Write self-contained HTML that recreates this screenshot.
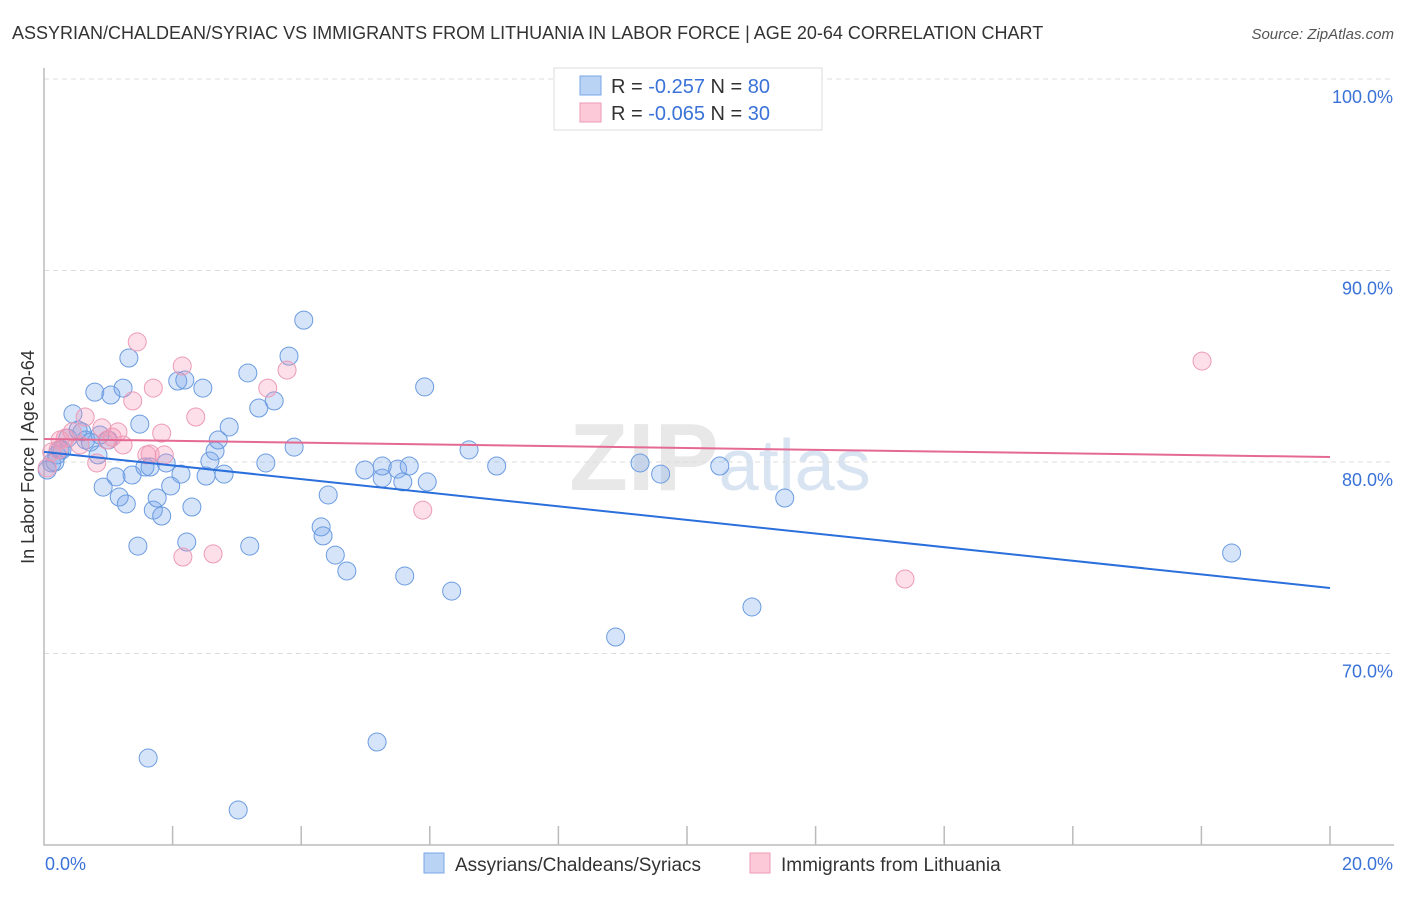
<!DOCTYPE html>
<html><head><meta charset="utf-8"><style>
body{margin:0;background:#fff;font-family:"Liberation Sans",sans-serif;}
svg text{font-family:"Liberation Sans",sans-serif;}
</style></head><body>
<svg id="chart" width="1406" height="892" xmlns="http://www.w3.org/2000/svg">
<text x="12" y="39" font-size="18" fill="#333">ASSYRIAN/CHALDEAN/SYRIAC VS IMMIGRANTS FROM LITHUANIA IN LABOR FORCE | AGE 20-64 CORRELATION CHART</text>
<text x="1394" y="39" font-size="15" fill="#555" text-anchor="end" font-style="italic">Source: ZipAtlas.com</text>
<text x="720" y="490" font-size="96" fill="#e8e8e8" text-anchor="middle" font-family="Liberation Serif" font-weight="bold">ZIP<tspan fill="#d8e4f2" font-family="Liberation Sans" font-weight="normal" font-size="72">atlas</tspan></text>
<g id="grid"></g>
<g id="axes"></g>
<g id="points"></g>
<g id="lines"></g>
<text transform="translate(34,457) rotate(-90)" font-size="18" fill="#333" text-anchor="middle">In Labor Force | Age 20-64</text>
<g>
<rect x="554" y="68" width="268" height="62" fill="#fff" stroke="#ddd"/>
<rect x="580" y="76" width="21" height="19" fill="#b9d3f5" stroke="#7aa6e6"/>
<rect x="580" y="103" width="21" height="19" fill="#fbc9d8" stroke="#ee9ab5"/>
<text x="611" y="93" font-size="20" fill="#333">R = <tspan fill="#3a72d8">-0.257</tspan>   N = <tspan fill="#3a72d8">80</tspan></text>
<text x="611" y="120" font-size="20" fill="#333">R = <tspan fill="#3a72d8">-0.065</tspan>   N = <tspan fill="#3a72d8">30</tspan></text>
</g>
<g>
<rect x="424" y="853" width="20" height="20" fill="#b9d3f5" stroke="#7aa6e6"/>
<text x="455" y="871" font-size="19" fill="#333">Assyrians/Chaldeans/Syriacs</text>
<rect x="750" y="853" width="20" height="20" fill="#fbc9d8" stroke="#ee9ab5"/>
<text x="781" y="871" font-size="19" fill="#333">Immigrants from Lithuania</text>
</g>
</svg>
<script>
const blueX=[0.05,0.12,0.20,0.28,0.37,0.45,0.53,0.59,0.65,0.72,0.79,0.84,0.92,1.00,1.04,1.12,1.17,1.23,1.28,1.32,1.37,1.46,1.49,1.57,1.65,1.70,1.76,1.83,1.90,1.97,2.08,2.13,2.19,2.22,2.30,2.47,2.52,2.58,2.66,2.71,2.80,2.88,3.17,3.20,3.34,3.45,3.58,3.81,3.89,4.04,4.31,4.34,4.42,4.53,4.71,4.99,5.18,5.26,5.26,5.50,5.58,5.61,5.68,5.92,5.96,6.34,6.61,7.04,8.89,9.27,9.59,10.51,11.01,11.52,18.47,1.62,3.02,0.17,0.25,0.87];
const blueY=[79.58,79.95,80.37,80.63,81.25,82.51,81.67,81.57,81.15,81.04,83.65,80.37,78.69,81.15,83.50,79.22,78.17,83.86,77.81,85.43,79.32,75.61,81.98,79.74,79.74,77.49,78.12,77.18,79.95,78.75,84.23,79.37,84.28,75.82,77.65,83.86,79.27,80.05,80.57,81.15,79.37,81.83,84.65,75.61,82.82,79.95,83.19,85.53,80.78,87.41,76.61,76.14,78.28,75.14,74.31,79.58,65.38,79.16,79.79,79.63,78.96,74.05,79.79,83.92,78.96,73.26,80.63,79.79,70.86,79.95,79.37,79.79,72.43,78.12,75.25,64.54,61.83,80.00,80.63,81.41];
const pinkX=[0.05,0.12,0.22,0.33,0.44,0.64,0.82,0.90,0.98,1.06,1.15,1.23,1.38,1.45,1.60,1.65,1.70,1.83,1.87,2.15,2.16,2.36,2.63,3.48,3.78,5.89,13.39,18.01,0.25,0.56];
const pinkY=[79.69,80.52,80.63,81.25,81.57,82.35,79.95,81.78,81.15,81.30,81.57,80.89,83.19,86.27,80.37,80.42,83.86,81.51,80.37,85.01,75.04,82.35,75.20,83.86,84.80,77.49,73.89,85.27,81.15,80.89];
const blueTrend=[80.53,73.42];
const pinkTrend=[81.20,80.26];
const yTicks=[100,90,80,70];
const xTickLabels=["0.0%","20.0%"];

const NS="http://www.w3.org/2000/svg";
const X0=44,X1=1330,Y100=79,PXPER=19.15;
const sx=v=>X0+(v/20)*(X1-X0);
const sy=v=>Y100+(100-v)*PXPER;
function mk(t,a,p){const e=document.createElementNS(NS,t);for(const k in a)e.setAttribute(k,a[k]);p.appendChild(e);return e;}
const grid=document.getElementById('grid'),axes=document.getElementById('axes'),pts=document.getElementById('points'),lines=document.getElementById('lines');
yTicks.forEach(v=>{
 const l=mk('line',{x1:X0,x2:1394,y1:sy(v),y2:sy(v),stroke:'#ddd','stroke-dasharray':'5,4'},grid);
 
 
 const t=mk('text',{x:1393,y:sy(v)+24,'font-size':18,fill:'#3a72d8','text-anchor':'end'},grid);
 t.textContent=v.toFixed(1)+'%';
 
 
});
const ax=mk('path',{d:`M${X0} 68V845H1394`,stroke:'#bbb',fill:'none','stroke-width':1.5},axes);


for(let i=1;i<=10;i++){
 const tk=mk('line',{x1:sx(i*2),x2:sx(i*2),y1:826,y2:845,stroke:'#bbb','stroke-width':1.5},axes);
 
 
}
[[0,'start',45],[20,'end',1393]].forEach((d,i)=>{
 const t=mk('text',{x:d[2],y:870,'font-size':18,fill:'#3a72d8','text-anchor':d[1]},axes);
 t.textContent=xTickLabels[i];
 
 
});
function drawPts(xs,ys,fill,stroke,name){
 xs.forEach((x,i)=>{
  const c=mk('circle',{cx:sx(x),cy:sy(ys[i]),r:9,fill:fill,stroke:stroke,'stroke-width':1},pts);
  
  
 });
}
drawPts(blueX,blueY,'rgba(120,165,235,0.3)','#6b9be0','assyrian-point');
drawPts(pinkX,pinkY,'rgba(245,150,180,0.3)','#ec9bb6','lithuania-point');
const bl=mk('line',{x1:sx(0),x2:sx(20),y1:sy(blueTrend[0]),y2:sy(blueTrend[1]),stroke:'#2a6fdb','stroke-width':2},lines);


const pl=mk('line',{x1:sx(0),x2:sx(20),y1:sy(pinkTrend[0]),y2:sy(pinkTrend[1]),stroke:'#e56a93','stroke-width':2},lines);


</script>
</body></html>
